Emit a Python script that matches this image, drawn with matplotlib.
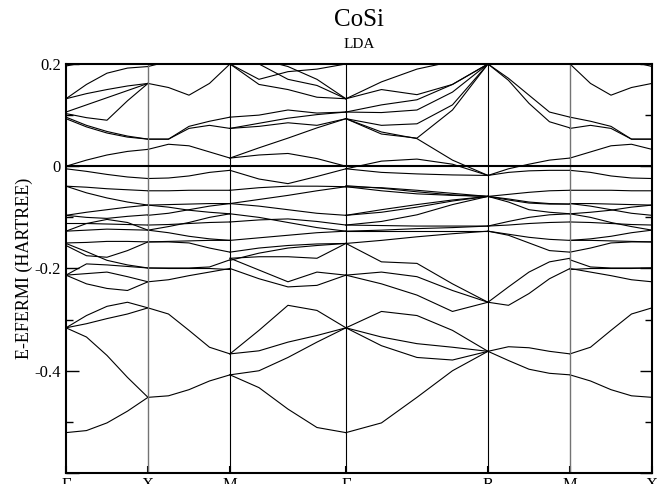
import numpy as np
import matplotlib
matplotlib.use("Agg")
import matplotlib.pyplot as plt

plt.rcParams['font.family'] = ['Liberation Serif', 'DejaVu Serif']

# k-path nodes (cubic path, |Gamma-X| = 1)
knodes = [0.0, 1.0, 2.0, 3.414, 5.146, 6.146, 7.146]
klabels = ['Γ', 'X', 'M', 'Γ', 'R', 'M', 'X']

# band energies (Hartree, relative to E_F) read at fractions 0, 1/4, 1/2, 3/4, 1 of each segment
gx_bands = [
    [0.196, 0.204, 0.21, 0.21, 0.21],
    [0.132, 0.160, 0.182, 0.192, 0.195],
    [0.132, 0.142, 0.150, 0.157, 0.162],
    [0.106, 0.120, 0.134, 0.148, 0.162],
    [0.103, 0.095, 0.090, 0.128, 0.162],
    [0.096, 0.080, 0.068, 0.059, 0.053],
    [0.093, 0.077, 0.065, 0.057, 0.053],
    [0.0, 0.012, 0.022, 0.029, 0.033],
    [-0.005, -0.010, -0.016, -0.021, -0.024],
    [-0.039, -0.041, -0.044, -0.046, -0.048],
    [-0.039, -0.052, -0.062, -0.070, -0.076],
    [-0.096, -0.090, -0.085, -0.080, -0.076],
    [-0.096, -0.100, -0.102, -0.098, -0.095],
    [-0.112, -0.112, -0.113, -0.114, -0.115],
    [-0.127, -0.112, -0.104, -0.110, -0.125],
    [-0.127, -0.125, -0.123, -0.124, -0.125],
    [-0.150, -0.149, -0.147, -0.147, -0.148],
    [-0.151, -0.167, -0.184, -0.193, -0.199],
    [-0.155, -0.175, -0.178, -0.165, -0.148],
    [-0.213, -0.191, -0.193, -0.196, -0.199],
    [-0.213, -0.210, -0.207, -0.216, -0.226],
    [-0.213, -0.230, -0.239, -0.243, -0.226],
    [-0.316, -0.308, -0.298, -0.289, -0.277],
    [-0.316, -0.292, -0.274, -0.266, -0.277],
    [-0.316, -0.334, -0.370, -0.413, -0.452],
    [-0.521, -0.517, -0.502, -0.479, -0.452],
]

xm_bands = [
    [0.195, 0.205, 0.21, 0.21, 0.21],
    [0.162, 0.154, 0.139, 0.162, 0.2],
    [0.053, 0.053, 0.078, 0.088, 0.096],
    [0.053, 0.053, 0.074, 0.080, 0.074],
    [0.033, 0.043, 0.040, 0.028, 0.016],
    [-0.024, -0.023, -0.019, -0.012, -0.008],
    [-0.048, -0.048, -0.047, -0.047, -0.047],
    [-0.076, -0.075, -0.074, -0.073, -0.073],
    [-0.076, -0.080, -0.086, -0.090, -0.093],
    [-0.096, -0.092, -0.085, -0.078, -0.073],
    [-0.115, -0.114, -0.112, -0.110, -0.109],
    [-0.125, -0.130, -0.137, -0.142, -0.145],
    [-0.125, -0.118, -0.110, -0.100, -0.093],
    [-0.148, -0.148, -0.150, -0.160, -0.168],
    [-0.148, -0.147, -0.146, -0.145, -0.145],
    [-0.199, -0.199, -0.199, -0.197, -0.183],
    [-0.199, -0.200, -0.200, -0.200, -0.202],
    [-0.226, -0.222, -0.214, -0.207, -0.200],
    [-0.277, -0.289, -0.321, -0.354, -0.367],
    [-0.452, -0.449, -0.437, -0.420, -0.408],
]

mg_bands = [
    [0.2, 0.160, 0.150, 0.135, 0.132],
    [0.2, 0.170, 0.185, 0.190, 0.2],
    [0.21, 0.2, 0.170, 0.158, 0.132],
    [0.21, 0.21, 0.195, 0.170, 0.132],
    [0.096, 0.100, 0.110, 0.104, 0.106],
    [0.074, 0.084, 0.094, 0.101, 0.106],
    [0.074, 0.078, 0.085, 0.080, 0.093],
    [0.016, 0.036, 0.055, 0.075, 0.093],
    [0.016, 0.022, 0.025, 0.015, 0.0],
    [-0.008, -0.025, -0.034, -0.020, -0.005],
    [-0.047, -0.042, -0.039, -0.039, -0.040],
    [-0.073, -0.065, -0.057, -0.048, -0.040],
    [-0.073, -0.078, -0.085, -0.092, -0.096],
    [-0.093, -0.100, -0.110, -0.120, -0.127],
    [-0.109, -0.105, -0.103, -0.108, -0.115],
    [-0.145, -0.140, -0.135, -0.130, -0.127],
    [-0.168, -0.160, -0.155, -0.152, -0.151],
    [-0.184, -0.170, -0.160, -0.155, -0.151],
    [-0.180, -0.177, -0.177, -0.180, -0.151],
    [-0.180, -0.203, -0.226, -0.207, -0.213],
    [-0.200, -0.220, -0.236, -0.233, -0.213],
    [-0.367, -0.321, -0.272, -0.282, -0.316],
    [-0.367, -0.361, -0.344, -0.331, -0.316],
    [-0.408, -0.400, -0.374, -0.344, -0.316],
    [-0.408, -0.433, -0.475, -0.511, -0.521],
]

gr_bands = [
    [0.132, 0.165, 0.190, 0.205, 0.21],
    [0.132, 0.150, 0.140, 0.160, 0.2],
    [0.106, 0.120, 0.130, 0.160, 0.2],
    [0.106, 0.105, 0.110, 0.145, 0.2],
    [0.093, 0.080, 0.083, 0.120, 0.2],
    [0.093, 0.063, 0.055, 0.110, 0.2],
    [0.093, 0.067, 0.054, 0.012, -0.018],
    [-0.005, 0.010, 0.014, 0.004, -0.018],
    [-0.005, -0.012, -0.015, -0.017, -0.018],
    [-0.040, -0.042, -0.047, -0.053, -0.059],
    [-0.040, -0.048, -0.054, -0.057, -0.059],
    [-0.038, -0.043, -0.050, -0.056, -0.059],
    [-0.096, -0.085, -0.075, -0.066, -0.059],
    [-0.096, -0.090, -0.080, -0.068, -0.059],
    [-0.115, -0.108, -0.095, -0.075, -0.059],
    [-0.115, -0.116, -0.117, -0.117, -0.117],
    [-0.127, -0.125, -0.122, -0.120, -0.117],
    [-0.127, -0.127, -0.127, -0.127, -0.127],
    [-0.151, -0.145, -0.138, -0.132, -0.127],
    [-0.151, -0.187, -0.190, -0.230, -0.266],
    [-0.213, -0.207, -0.216, -0.243, -0.266],
    [-0.213, -0.230, -0.252, -0.284, -0.266],
    [-0.316, -0.284, -0.292, -0.321, -0.362],
    [-0.316, -0.334, -0.347, -0.354, -0.362],
    [-0.316, -0.351, -0.374, -0.379, -0.362],
    [-0.521, -0.502, -0.452, -0.400, -0.362],
]

rm_bands = [
    [0.2, 0.172, 0.139, 0.106, 0.096],
    [0.2, 0.168, 0.123, 0.087, 0.075],
    [-0.018, -0.005, 0.004, 0.012, 0.016],
    [-0.018, -0.012, -0.009, -0.008, -0.008],
    [-0.059, -0.055, -0.051, -0.048, -0.047],
    [-0.059, -0.064, -0.070, -0.073, -0.074],
    [-0.059, -0.066, -0.072, -0.074, -0.074],
    [-0.059, -0.070, -0.085, -0.090, -0.093],
    [-0.117, -0.108, -0.100, -0.095, -0.093],
    [-0.117, -0.115, -0.112, -0.110, -0.109],
    [-0.127, -0.133, -0.139, -0.143, -0.145],
    [-0.127, -0.135, -0.150, -0.165, -0.168],
    [-0.266, -0.236, -0.207, -0.187, -0.180],
    [-0.266, -0.272, -0.249, -0.220, -0.200],
    [-0.362, -0.353, -0.355, -0.362, -0.367],
    [-0.362, -0.380, -0.397, -0.405, -0.408],
]

# M-X is the X-M path walked backwards
mx_bands = [b[::-1] for b in xm_bands]

segments = [gx_bands, xm_bands, mg_bands, gr_bands, rm_bands, mx_bands]

yticks = [-0.6, -0.4, -0.2, 0.0, 0.2]
ytick_labels = ['', '-0.4', '-0.2', '0', '0.2']

fig = plt.figure(figsize=(6.63, 4.84), dpi=100)
ax = fig.add_axes([0.0995, 0.0227, 0.8839, 0.8451])

for i, bands in enumerate(segments):
    kk = np.linspace(knodes[i], knodes[i + 1], 5)
    for b in bands:
        ax.plot(kk, b, color='black', lw=0.8)

for j, k in enumerate(knodes[1:-1]):
    c = '0.45' if j in (0, 4) else 'black'
    ax.axvline(k, color=c, lw=1.0 if j in (0, 4) else 0.8)
ax.axhline(0.0, color='black', lw=1.5)

ax.set_xlim(knodes[0], knodes[-1])
ax.set_ylim(-0.6, 0.2)
ax.set_xticks(knodes)
ax.set_xticklabels(klabels, fontsize=12)
ax.set_yticks(yticks)
ax.set_yticklabels(ytick_labels, fontsize=12)
ax.set_yticks([-0.5, -0.3, -0.1, 0.1], minor=True)
ax.tick_params(axis='y', which='major', direction='in', length=9, width=1, right=True)
ax.tick_params(axis='y', which='minor', direction='in', length=5, width=1, right=True)
ax.tick_params(axis='x', direction='in', length=5, width=1.5, pad=3)
for s in ax.spines.values():
    s.set_linewidth(1.5)

ax.set_ylabel('E-EFERMI (HARTREE)', fontsize=13, labelpad=1)
fig.text(0.5415, 1 - 20 / 484, 'CoSi', ha='center', va='center', fontsize=18)
fig.text(0.5415, 1 - 44 / 484, 'LDA', ha='center', va='center', fontsize=11)

fig.savefig('out.png', dpi=100)
